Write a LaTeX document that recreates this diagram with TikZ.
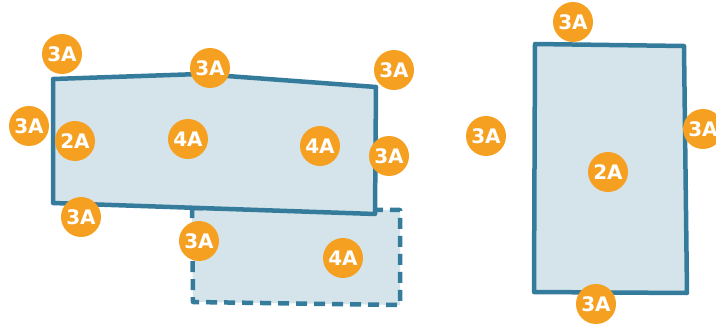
\documentclass[tikz,border=0pt]{standalone}
\usepackage{fontspec}
\setmainfont{DejaVu Sans}
\definecolor{edge}{HTML}{357C9C}
\definecolor{area}{HTML}{D5E4EB}
\definecolor{badge}{HTML}{F5A021}
\begin{document}
\begin{tikzpicture}[x=1pt,y=-1pt,
  zone/.style={draw=edge,fill=area,line width=4.5pt,line join=round},
  dzone/.style={zone,dash pattern=on 11pt off 7pt},
  tag/.style={circle,fill=badge,minimum size=40pt,inner sep=0pt,text=white,
    font=\fontsize{20}{20}\selectfont\bfseries}]
\useasboundingbox (0,0) rectangle (716,324);
\draw[dzone] (192,208) -- (400,210) -- (400,305) -- (193,302) -- cycle;
\draw[zone] (53,79) -- (200,74) -- (376,87) -- (375,214) -- (53,203) -- cycle;
\draw[zone] (535,44) -- (684,46) -- (687,293) -- (534,292) -- cycle;
\node[tag] (a1) at (62,54) {3A};
\node[tag] (a2) at (210,68) {3A};
\node[tag] (a3) at (394,70) {3A};
\node[tag] (a4) at (29,126) {3A};
\node[tag] (a5) at (75,141) {2A};
\node[tag] (a6) at (188,139) {4A};
\node[tag] (a7) at (320,146) {4A};
\node[tag] (a8) at (389,156) {3A};
\node[tag] (a9) at (81,217) {3A};
\node[tag] (a10) at (199,241) {3A};
\node[tag] (a11) at (343,258) {4A};
\node[tag] (b1) at (573,22) {3A};
\node[tag] (b2) at (486,136) {3A};
\node[tag] (b3) at (703,129) {3A};
\node[tag] (b4) at (608,172) {2A};
\node[tag] (b5) at (596,304) {3A};
\end{tikzpicture}
\end{document}
